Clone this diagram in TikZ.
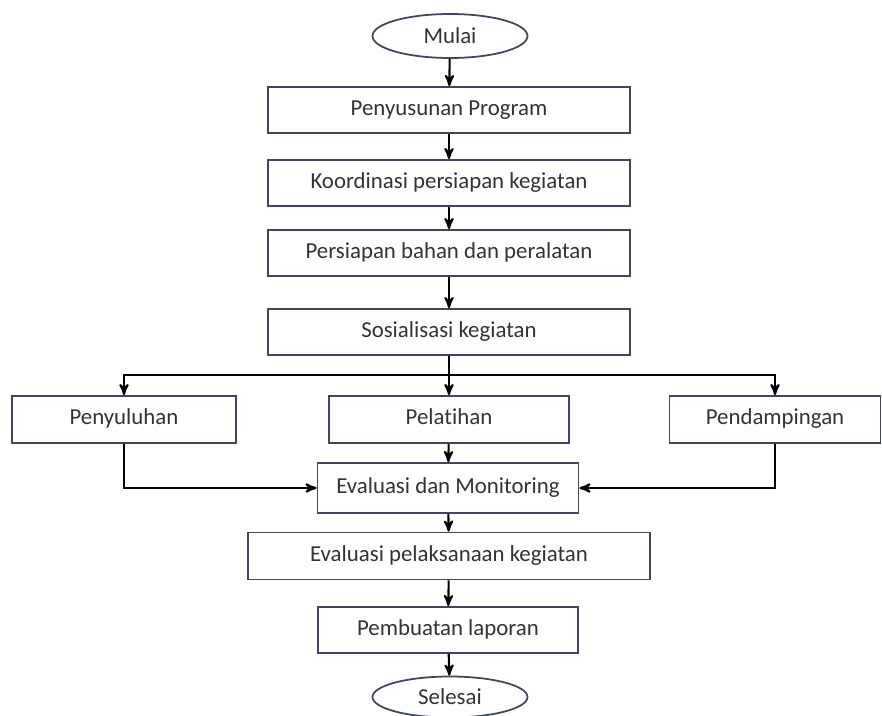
\documentclass[tikz,border=0pt]{standalone}
\usepackage{fontspec}
\setmainfont{Carlito}[Ligatures={NoCommon}]
\usepackage{tikz}
\usetikzlibrary{shapes.geometric, arrows, positioning}
\definecolor{garis}{RGB}{62,72,90}

\begin{document}
\begin{tikzpicture}[
    process/.style={rectangle, draw=garis, line width=1pt, fill=white, text=black!80, minimum height=0.92cm, text height=1.6ex, text depth=0.4ex, font=\fontsize{13}{15}\selectfont},
    terminal/.style={ellipse, draw=garis, line width=1pt, fill=white, text=black!80, minimum width=3.1cm, minimum height=0.88cm, font=\fontsize{13}{15}\selectfont},
    arrow/.style={->, >=stealth', line width=1.2pt}
]
\useasboundingbox (0,0) rectangle (17.64,-14.32);
\node[terminal] (mulai) at (9.0, -0.72) {Mulai};
\node[process, minimum width=7.24cm] (program) at (8.98, -2.2) {Penyusunan Program};
\node[process, minimum width=7.24cm] (koordinasi) at (8.98, -3.66) {Koordinasi persiapan kegiatan};
\node[process, minimum width=7.24cm] (persiapan) at (8.98, -5.06) {Persiapan bahan dan peralatan};
\node[process, minimum width=7.24cm] (sosialisasi) at (8.98, -6.64) {Sosialisasi kegiatan};
\coordinate (cabang) at (8.98, -7.5);
\node[process, minimum width=4.48cm, minimum height=0.94cm] (penyuluhan) at (2.48, -8.39) {Penyuluhan};
\node[process, minimum width=4.8cm, minimum height=0.94cm] (pelatihan) at (8.98, -8.39) {Pelatihan};
\node[process, minimum width=4.22cm, minimum height=0.94cm] (pendampingan) at (15.5, -8.39) {Pendampingan};
\node[process, minimum width=5.22cm, minimum height=1cm] (monitoring) at (8.96, -9.76) {Evaluasi dan Monitoring};
\node[process, minimum width=8.04cm, minimum height=0.94cm] (pelaksanaan) at (8.98, -11.12) {Evaluasi pelaksanaan kegiatan};
\node[process, minimum width=5.2cm] (laporan) at (8.96, -12.6) {Pembuatan laporan};
\node[terminal, minimum height=0.82cm] (selesai) at (9.0, -13.94) {Selesai};
\draw[arrow] (mulai) -- (program);
\draw[arrow] (program) -- (koordinasi);
\draw[arrow] (koordinasi) -- (persiapan);
\draw[arrow] (persiapan) -- (sosialisasi);
\draw[line width=1.2pt] (sosialisasi) -- (cabang);
\draw[arrow] (cabang) -| (penyuluhan);
\draw[arrow] (cabang) -| (pendampingan);
\draw[arrow] (cabang) -- (pelatihan);
\draw[arrow] (penyuluhan) |- (monitoring);
\draw[arrow] (pendampingan) |- (monitoring);
\draw[arrow] (pelatihan) -- (monitoring);
\draw[arrow] (monitoring) -- (pelaksanaan);
\draw[arrow] (pelaksanaan) -- (laporan);
\draw[arrow] (laporan) -- (selesai);
\end{tikzpicture}
\end{document}
